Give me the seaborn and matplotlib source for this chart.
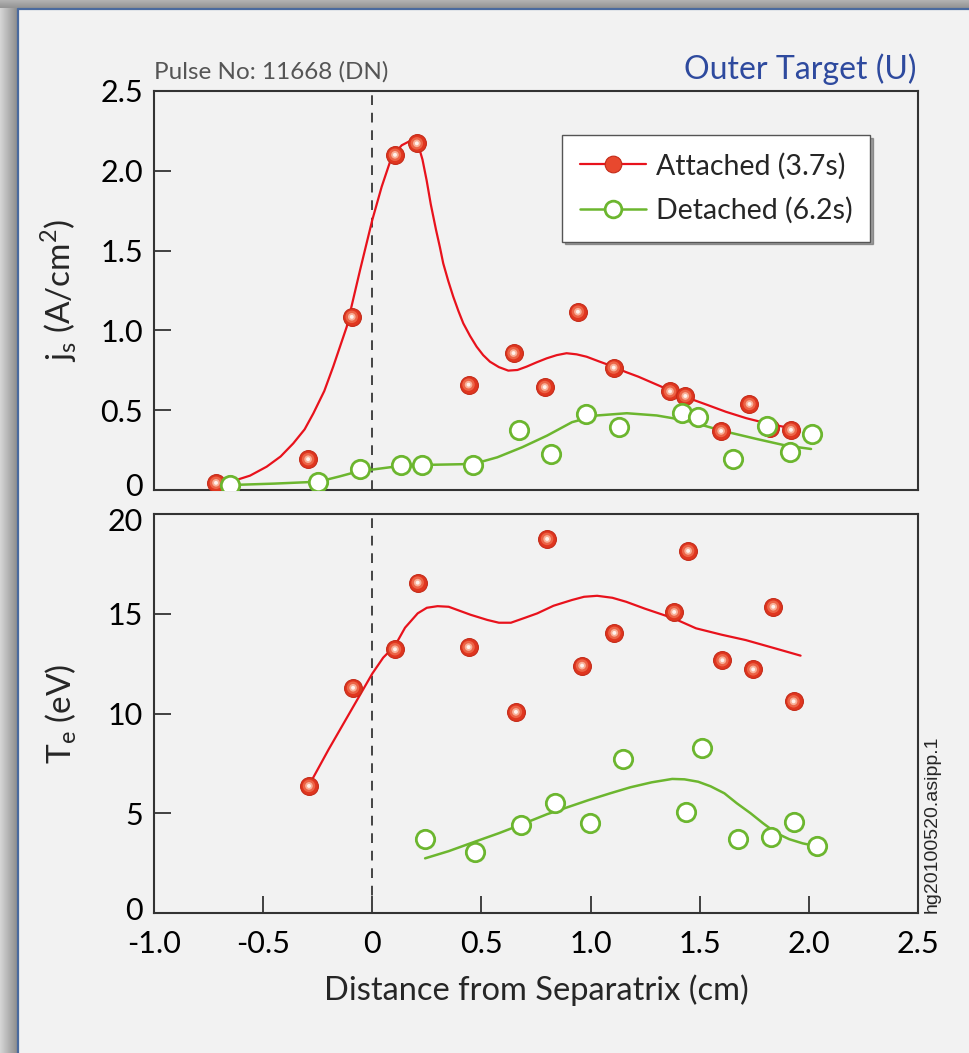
import numpy as np
import matplotlib
matplotlib.use("Agg")
import matplotlib.pyplot as plt
from matplotlib.lines import Line2D
from matplotlib.transforms import ScaledTranslation
import seaborn as sns

# ---- data ----
# jsat, attached (3.7 s)
js_att_x = [-0.716, -0.294, -0.094, 0.104, 0.204, 0.441, 0.647, 0.790, 0.942, 1.106, 1.364, 1.434, 1.598, 1.728, 1.822, 1.918]
js_att_y = [0.045, 0.193, 1.085, 2.100, 2.172, 0.660, 0.858, 0.645, 1.117, 0.767, 0.618, 0.589, 0.370, 0.539, 0.387, 0.377]
# jsat, detached (6.2 s)
js_det_x = [-0.654, -0.249, -0.058, 0.132, 0.229, 0.461, 0.674, 0.817, 0.977, 1.132, 1.419, 1.490, 1.654, 1.809, 1.912, 2.014]
js_det_y = [0.033, 0.049, 0.132, 0.159, 0.155, 0.155, 0.379, 0.226, 0.477, 0.397, 0.481, 0.456, 0.197, 0.402, 0.236, 0.351]
# Te, attached
te_att_x = [-0.290, -0.088, 0.104, 0.208, 0.441, 0.658, 0.801, 0.961, 1.109, 1.383, 1.447, 1.604, 1.745, 1.837, 1.930]
te_att_y = [6.37, 11.29, 13.22, 16.56, 13.33, 10.08, 18.75, 12.40, 14.04, 15.09, 18.15, 12.67, 12.21, 15.35, 10.61]
# Te, detached
te_det_x = [0.242, 0.472, 0.682, 0.836, 0.998, 1.149, 1.438, 1.510, 1.675, 1.828, 1.934, 2.036]
te_det_y = [3.69, 3.07, 4.43, 5.53, 4.51, 7.74, 5.06, 8.29, 3.73, 3.83, 4.54, 3.38]

# fitted curves as drawn in the figure
fit_js_att_x = [-0.652, -0.56, -0.484, -0.42, -0.362, -0.31, -0.27, -0.22, -0.179, -0.117, -0.056, 0.0, 0.043,
                0.089, 0.135, 0.173, 0.211, 0.23, 0.249, 0.268, 0.292, 0.31, 0.325, 0.348, 0.371, 0.395, 0.417,
                0.448, 0.478, 0.508, 0.539, 0.58, 0.623, 0.665, 0.707, 0.753, 0.799, 0.845, 0.89, 0.936, 0.982,
                1.04, 1.104, 1.16, 1.219, 1.30, 1.362, 1.45, 1.531, 1.62, 1.713, 1.8, 1.895, 1.93]
fit_js_att_y = [0.05, 0.09, 0.146, 0.21, 0.292, 0.38, 0.48, 0.62, 0.773, 1.023, 1.378, 1.692, 1.90,
                2.088, 2.16, 2.187, 2.16, 2.07, 1.94, 1.79, 1.63, 1.52, 1.42, 1.31, 1.211, 1.12, 1.044,
                0.965, 0.898, 0.845, 0.804, 0.77, 0.748, 0.752, 0.773, 0.80, 0.825, 0.845, 0.857, 0.85, 0.835,
                0.805, 0.773, 0.74, 0.71, 0.662, 0.625, 0.575, 0.535, 0.49, 0.45, 0.42, 0.393, 0.38]
fit_js_det_x = [-0.652, -0.45, -0.247, -0.15, -0.056, 0.0, 0.135, 0.231, 0.35, 0.463, 0.573, 0.687, 0.801,
                0.915, 1.03, 1.166, 1.303, 1.44, 1.6, 1.76, 1.896, 2.01]
fit_js_det_y = [0.031, 0.04, 0.052, 0.085, 0.12, 0.128, 0.152, 0.157, 0.16, 0.163, 0.205, 0.268, 0.341,
                0.425, 0.467, 0.481, 0.467, 0.435, 0.372, 0.32, 0.278, 0.257]
fit_te_att_x = [-0.29, -0.2, -0.1, 0.0, 0.05, 0.104, 0.15, 0.208, 0.25, 0.299, 0.35, 0.39, 0.45, 0.527, 0.58,
                0.635, 0.7, 0.756, 0.83, 0.915, 0.97, 1.03, 1.1, 1.163, 1.25, 1.38, 1.483, 1.6, 1.711, 1.85, 1.962]
fit_te_att_y = [6.4, 8.2, 10.1, 12.0, 12.8, 13.4, 14.3, 15.02, 15.3, 15.38, 15.35, 15.19, 14.95, 14.69, 14.55,
                14.55, 14.8, 15.02, 15.4, 15.69, 15.85, 15.9, 15.8, 15.6, 15.25, 14.77, 14.27, 13.95, 13.68, 13.25, 12.9]
fit_te_det_x = [0.242, 0.35, 0.469, 0.58, 0.682, 0.8, 0.991, 1.09, 1.182, 1.28, 1.374, 1.43, 1.493, 1.55,
                1.613, 1.67, 1.733, 1.79, 1.852, 1.91, 1.972, 2.008]
fit_te_det_y = [2.74, 3.1, 3.57, 4.0, 4.43, 4.95, 5.66, 6.0, 6.3, 6.55, 6.72, 6.7, 6.58, 6.35,
                6.0, 5.5, 5.0, 4.5, 4.0, 3.7, 3.49, 3.41]

x_ticks = [-1.0, -0.5, 0, 0.5, 1.0, 1.5, 2.0, 2.5]
x_ticklabels = ["-1.0", "-0.5", "0", "0.5", "1.0", "1.5", "2.0", "2.5"]
js_ticks = [0, 0.5, 1.0, 1.5, 2.0, 2.5]
js_ticklabels = ["0", "0.5", "1.0", "1.5", "2.0", "2.5"]
te_ticks = [0, 5, 10, 15, 20]
te_ticklabels = ["0", "5", "10", "15", "20"]
labels = ["Attached (3.7s)", "Detached (6.2s)"]

RED = "#e8121c"
GREEN = "#6cb62f"
BG = "#f2f2f2"

sns.set_style("ticks")
plt.rcParams["font.family"] = ["Lato", "DejaVu Sans"]
plt.rcParams["mathtext.fontset"] = "custom"
plt.rcParams["mathtext.rm"] = "Lato"

W, H = 969, 1053
fig = plt.figure(figsize=(W / 100, H / 100), dpi=100, facecolor=BG)

# frame decoration: grey shadow strip on left/top with a thin blue rule
grad = np.linspace(0.84, 0.56, 64).reshape(1, -1)
axl = fig.add_axes([0, 0, 17 / W, 1])
axl.imshow(grad, cmap="gray", vmin=0, vmax=1, aspect="auto")
axl.axis("off")
axt = fig.add_axes([0, 1 - 8 / H, 1, 8 / H])
axt.imshow(np.linspace(0.70, 0.58, 16).reshape(-1, 1), cmap="gray", vmin=0, vmax=1, aspect="auto")
axt.axis("off")
fig.add_artist(Line2D([18 / W, 18 / W], [0, 1 - 9 / H], color="#4a6a9e", lw=1.6))
fig.add_artist(Line2D([18 / W, 1], [1 - 9 / H, 1 - 9 / H], color="#4a6a9e", lw=1.6))

left, right = 154 / W, 918 / W
ax1 = fig.add_axes([left, 1 - 490 / H, right - left, 399 / H])
ax2 = fig.add_axes([left, 1 - 913 / H, right - left, 399 / H])


def shiny(ax, x, y):
    # layered markers give the glossy look of the red dots
    sns.scatterplot(x=x, y=y, ax=ax, s=165, color="#e0361f", edgecolor="#c42a18", linewidth=0.8, zorder=4)
    sns.scatterplot(x=x, y=y, ax=ax, s=80, color="#ee6a4c", edgecolor="none", linewidth=0, zorder=4, alpha=0.9)
    sns.scatterplot(x=x, y=y, ax=ax, s=30, color="#f9b49c", edgecolor="none", linewidth=0, zorder=4, alpha=0.95)
    sns.scatterplot(x=x, y=y, ax=ax, s=8, color="#fff2ec", edgecolor="none", linewidth=0, zorder=4)


def hollow(ax, x, y):
    sns.scatterplot(x=x, y=y, ax=ax, s=175, color="white", edgecolor=GREEN, linewidth=2.0, zorder=5)


for ax in (ax1, ax2):
    ax.set_facecolor(BG)
    ax.set_xlim(-1.0, 2.5)
    ax.axvline(0, color="#444444", lw=1.4, dashes=(5, 4), zorder=1)
    for s in ax.spines.values():
        s.set_color("#333333")
        s.set_linewidth(1.5)
    ax.tick_params(direction="in", length=12, width=1.3, color="#333333", labelsize=22, pad=8,
                   labelcolor="black")

# top panel: saturation current
sns.lineplot(x=fit_js_att_x, y=fit_js_att_y, ax=ax1, color=RED, lw=1.6, sort=False, estimator=None, zorder=2)
sns.lineplot(x=fit_js_det_x, y=fit_js_det_y, ax=ax1, color=GREEN, lw=1.8, sort=False, estimator=None, zorder=2)
shiny(ax1, js_att_x, js_att_y)
hollow(ax1, js_det_x, js_det_y)
ax1.set_ylim(0, 2.5)
ax1.set_yticks(js_ticks)
ax1.set_yticklabels(js_ticklabels)
ax1.set_xticks([])
ax1.set_ylabel(r"j$_\mathregular{s}$ (A/cm$^\mathregular{2}$)", fontsize=24)
ax1.yaxis.set_label_coords(-0.098, 0.5)

# bottom panel: electron temperature
sns.lineplot(x=fit_te_att_x, y=fit_te_att_y, ax=ax2, color=RED, lw=1.6, sort=False, estimator=None, zorder=2)
sns.lineplot(x=fit_te_det_x, y=fit_te_det_y, ax=ax2, color=GREEN, lw=1.8, sort=False, estimator=None, zorder=2)
shiny(ax2, te_att_x, te_att_y)
hollow(ax2, te_det_x, te_det_y)
ax2.set_ylim(0, 20)
ax2.set_yticks(te_ticks)
ax2.set_yticklabels(te_ticklabels)
ax2.set_xticks(x_ticks)
ax2.set_xticklabels(x_ticklabels)
ax2.tick_params(axis="x", pad=12)
ax2.set_ylabel(r"T$_\mathregular{e}$ (eV)", fontsize=24)
ax2.yaxis.set_label_coords(-0.098, 0.5)
ax2.set_xlabel("Distance from Separatrix (cm)", fontsize=23.5)
ax2.xaxis.set_label_coords(0.5, -0.155)

# nudge the two labels that meet between the panels apart, as in the original
lab = ax1.get_yticklabels()[0]
lab.set_transform(lab.get_transform() + ScaledTranslation(0, 6 / 100, fig.dpi_scale_trans))
lab = ax2.get_yticklabels()[-1]
lab.set_transform(lab.get_transform() + ScaledTranslation(0, -5 / 100, fig.dpi_scale_trans))
lab = ax2.get_yticklabels()[0]
lab.set_transform(lab.get_transform() + ScaledTranslation(0, 4 / 100, fig.dpi_scale_trans))

# legend
handles = [
    Line2D([], [], color=RED, lw=1.6, marker="o", markersize=12, markerfacecolor="#e8482e",
           markeredgecolor="#c42a18", markeredgewidth=0.8),
    Line2D([], [], color=GREEN, lw=1.8, marker="o", markersize=12, markerfacecolor="white",
           markeredgecolor=GREEN, markeredgewidth=2.0),
]
leg = ax1.legend(handles, labels, loc="upper right", bbox_to_anchor=(0.937, 0.890), borderaxespad=0,
                 fontsize=20.5, frameon=True, fancybox=False, shadow=True, handlelength=2.3,
                 handletextpad=0.35, labelspacing=0.62, borderpad=0.62)
leg.get_frame().set_facecolor("white")
leg.get_frame().set_edgecolor("#555555")
leg.get_frame().set_linewidth(1.0)

# annotations
fig.text(left, 1 - 72 / H, "Pulse No: 11668 (DN)", fontsize=17.5, color="#555555", ha="left", va="center")
fig.text(right - 2 / W, 1 - 69 / H, "Outer Target (U)", fontsize=23, color="#2e4a9e", ha="right", va="center")
fig.text(932 / W, 1 - 824 / H, "hg20100520.asipp.1", fontsize=14, rotation=90, ha="center", va="center",
         family=["Liberation Sans", "DejaVu Sans"])

fig.savefig("out.png", dpi=100, facecolor=BG)
